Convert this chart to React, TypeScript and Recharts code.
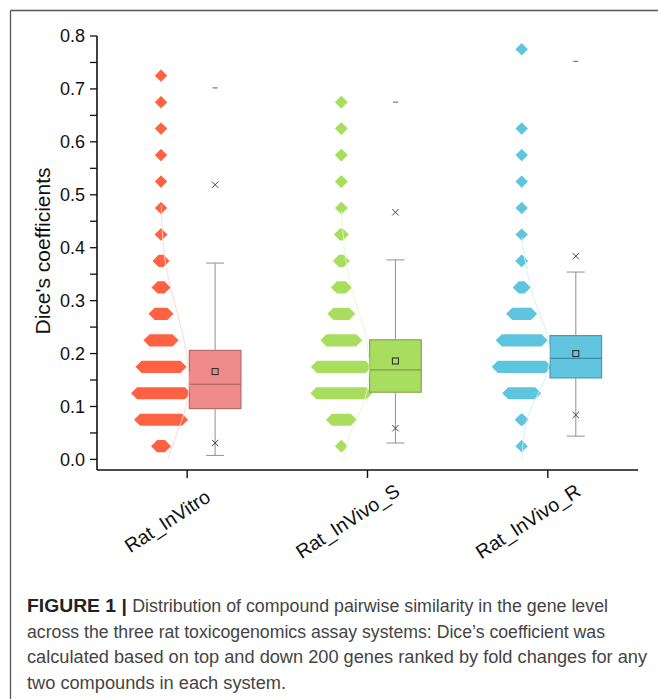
import React from 'react';
import { ComposedChart, XAxis, YAxis, ReferenceArea, ReferenceLine, Scatter } from 'recharts';

// ---------- data ----------
const categories = ['Rat_InVitro', 'Rat_InVivo_S', 'Rat_InVivo_R'];
const categoryPos = [1, 2, 3];
const yTicks = [0, 0.05, 0.1, 0.15, 0.2, 0.25, 0.3, 0.35, 0.4, 0.45, 0.5, 0.55, 0.6, 0.65, 0.7, 0.75, 0.8];
const yMajorTicks = [0, 0.1, 0.2, 0.3, 0.4, 0.5, 0.6, 0.7, 0.8];

// histogram bins (bin centres) and relative frequencies (%), null = empty bin
const binCenters = [0.025, 0.075, 0.125, 0.175, 0.225, 0.275, 0.325, 0.375, 0.425, 0.475, 0.525, 0.575, 0.625, 0.675, 0.725, 0.775];
const freqInVitro = [4.3, 22.6, 25.8, 21.0, 12.4, 7.0, 3.8, 2.7, 0.5, 0.2, 0.2, 0.2, 0.2, 0.2, 0.2, null];
const freqInVivoS = [0.5, 10.2, 26.9, 26.3, 16.1, 8.6, 4.8, 2.7, 1.6, 0.5, 0.5, 0.5, 0.5, 0.5, null, null];
const freqInVivoR = [0.2, 1.1, 14.5, 25.8, 21.5, 10.2, 3.2, 0.5, 0.2, 0.2, 0.2, 0.2, 0.2, null, null, 0.2];

// distribution curves: y positions and density values
const curveYInVitro = [0, 0.05, 0.1, 0.15, 0.2, 0.25, 0.3, 0.35, 0.4, 0.45, 0.48];
const curveDInVitro = [0.67, 1.6, 2.5, 2.8, 2.55, 2.0, 1.3, 0.65, 0.25, 0.08, 0.03];
const curveYInVivoS = [0, 0.05, 0.1, 0.15, 0.2, 0.25, 0.3, 0.35, 0.4, 0.45, 0.47];
const curveDInVivoS = [0.23, 0.9, 2.1, 2.7, 2.7, 2.2, 1.4, 0.7, 0.3, 0.07, 0.02];
const curveYInVivoR = [0, 0.05, 0.1, 0.15, 0.2, 0.25, 0.3, 0.35, 0.4, 0.42];
const curveDInVivoR = [0.03, 0.25, 1.0, 2.3, 2.8, 2.3, 1.3, 0.6, 0.15, 0.05];

// box statistics: whisker low, 1%, Q1, median, mean, Q3, whisker high, 99%, max
const whiskerLow = [0.0075, 0.031, 0.044];
const p1 = [0.031, 0.059, 0.084];
const q1 = [0.096, 0.127, 0.154];
const median = [0.142, 0.169, 0.191];
const mean = [0.166, 0.186, 0.200];
const q3 = [0.206, 0.226, 0.234];
const whiskerHigh = [0.371, 0.377, 0.354];
const p99 = [0.519, 0.467, 0.384];
const maxVal = [0.702, 0.675, 0.752];

const freqs = [freqInVitro, freqInVivoS, freqInVivoR];
const curveYs = [curveYInVitro, curveYInVivoS, curveYInVivoR];
const curveDs = [curveDInVitro, curveDInVivoS, curveDInVivoR];

// ---------- style ----------
const HIST_OFFSET = -0.145;
const BOX_OFFSET = 0.155;
const BOX_HALF = 0.143;
const CAP_HALF = 0.05;
const HEX_HALF_H = 0.0115;
const HEX_TIP = 0.0333;
const FREQ_SCALE = 0.01032;
const CURVE_SCALE = 0.0555;

const hexColors = ['#FF6242', '#A8DD5E', '#5EC5DF'];
const boxFill = ['#EF8A8A', '#A9DD60', '#62C5DF'];
const boxStroke = ['#B56A6A', '#88A656', '#4C9AB0'];
const medianStroke = ['#B05A5A', '#7E9C4E', '#3E8CA3'];
const curveColors = ['#FDD3CC', '#E6F5CF', '#CDEEF7'];

const FONT = '"Liberation Sans", Arial, Helvetica, sans-serif';
const AXIS = '#111';

const Hex = (props: any) => {
  const { x, y, width, height, fill } = props;
  const cx = x + width / 2;
  const cy = y + height / 2;
  const tip = height / 2;
  const half = Math.max(width / 2, tip);
  const pts = [
    [cx - half, cy],
    [cx - half + tip, y],
    [cx + half - tip, y],
    [cx + half, cy],
    [cx + half - tip, y + height],
    [cx - half + tip, y + height],
  ];
  return <polygon points={pts.map((p) => p.join(',')).join(' ')} fill={fill} />;
};

const BoxShape = (props: any) => {
  const { x, y, width, height, fill, stroke } = props;
  return <rect x={x} y={y} width={width} height={height} fill={fill} stroke={stroke} strokeWidth={1.2} />;
};

const MeanSquare = (props: any) => {
  const { cx, cy } = props;
  return <rect x={cx - 3} y={cy - 3} width={6} height={6} fill="none" stroke="#333" strokeWidth={1.1} />;
};

const CrossMark = (props: any) => {
  const { cx, cy } = props;
  const s = 3.2;
  return (
    <g stroke="#444" strokeWidth={1}>
      <line x1={cx - s} y1={cy - s} x2={cx + s} y2={cy + s} />
      <line x1={cx - s} y1={cy + s} x2={cx + s} y2={cy - s} />
    </g>
  );
};

const DashMark = (props: any) => {
  const { cx, cy } = props;
  return <line x1={cx - 2.5} y1={cy} x2={cx + 2.5} y2={cy} stroke="#777" strokeWidth={1.2} />;
};

const NoDot = () => <g />;

const XTick = (props: any) => {
  const { x, y, payload } = props;
  const cx = x - 20;
  const cy = y + 41;
  const idx = categoryPos.indexOf(payload.value);
  return (
    <text
      x={cx}
      y={cy}
      transform={`rotate(-33 ${cx} ${cy})`}
      textAnchor="middle"
      dominantBaseline="central"
      fontSize={19.5}
      fontFamily={FONT}
      fill={AXIS}
    >
      {categories[idx]}
    </text>
  );
};

const fmtY = (v: number) => (Math.round(v * 100) % 10 === 0 ? v.toFixed(1) : '');

export default function App() {
  const hexes: any[] = [];
  const boxes: any[] = [];
  const lines: any[] = [];
  const curves: any[] = [];

  categoryPos.forEach((c, gi) => {
    const hc = c + HIST_OFFSET;
    binCenters.forEach((b, bi) => {
      const f = freqs[gi][bi];
      if (f === null || f === undefined) return;
      const half = HEX_TIP + (f * FREQ_SCALE) / 2;
      hexes.push(
        <ReferenceArea
          key={`h${gi}-${bi}`}
          x1={hc - half}
          x2={hc + half}
          y1={b - HEX_HALF_H}
          y2={b + HEX_HALF_H}
          fill={hexColors[gi]}
          fillOpacity={1}
          stroke="none"
          shape={Hex}
          ifOverflow="visible"
        />
      );
    });

    const curveData = curveYs[gi].map((yy, i) => ({ x: hc + curveDs[gi][i] * CURVE_SCALE, y: yy }));
    curves.push(
      <Scatter
        key={`c${gi}`}
        data={curveData}
        line={{ stroke: curveColors[gi], strokeWidth: 0.9 }}
        lineType="joint"
        lineJointType="natural"
        shape={NoDot}
        isAnimationActive={false}
      />
    );

    const bc = c + BOX_OFFSET;
    lines.push(
      <ReferenceLine key={`wu${gi}`} segment={[{ x: bc, y: q3[gi] }, { x: bc, y: whiskerHigh[gi] }]} stroke="#9a9a9a" strokeWidth={1.1} ifOverflow="visible" />,
      <ReferenceLine key={`wl${gi}`} segment={[{ x: bc, y: q1[gi] }, { x: bc, y: whiskerLow[gi] }]} stroke="#9a9a9a" strokeWidth={1.1} ifOverflow="visible" />,
      <ReferenceLine key={`cu${gi}`} segment={[{ x: bc - CAP_HALF, y: whiskerHigh[gi] }, { x: bc + CAP_HALF, y: whiskerHigh[gi] }]} stroke="#9a9a9a" strokeWidth={1.1} ifOverflow="visible" />,
      <ReferenceLine key={`cl${gi}`} segment={[{ x: bc - CAP_HALF, y: whiskerLow[gi] }, { x: bc + CAP_HALF, y: whiskerLow[gi] }]} stroke="#9a9a9a" strokeWidth={1.1} ifOverflow="visible" />
    );
    boxes.push(
      <ReferenceArea
        key={`b${gi}`}
        x1={bc - BOX_HALF}
        x2={bc + BOX_HALF}
        y1={q1[gi]}
        y2={q3[gi]}
        fill={boxFill[gi]}
        fillOpacity={1}
        stroke={boxStroke[gi]}
        shape={BoxShape}
        ifOverflow="visible"
      />
    );
    lines.push(
      <ReferenceLine key={`m${gi}`} segment={[{ x: bc - BOX_HALF, y: median[gi] }, { x: bc + BOX_HALF, y: median[gi] }]} stroke={medianStroke[gi]} strokeWidth={1.2} ifOverflow="visible" />
    );
  });

  const meanData = categoryPos.map((c, i) => ({ x: c + BOX_OFFSET, y: mean[i] }));
  const crossData = categoryPos.flatMap((c, i) => [
    { x: c + BOX_OFFSET, y: p1[i] },
    { x: c + BOX_OFFSET, y: p99[i] },
  ]);
  const maxData = categoryPos.map((c, i) => ({ x: c + BOX_OFFSET, y: maxVal[i] }));

  return (
    <div style={{ position: 'absolute', left: 0, top: 0, width: 658, height: 699, background: '#fff' }}>
      <svg width={658} height={699} style={{ position: 'absolute', left: 0, top: 0 }}>
        <line x1={10.5} y1={10.5} x2={658} y2={10.5} stroke="#555" strokeWidth={1.3} />
        <line x1={10.5} y1={10.5} x2={10.5} y2={699} stroke="#555" strokeWidth={1.3} />
        <g fontFamily={FONT} fontSize={17.5}>
          <text x={27} y={612} textLength={581} lengthAdjust="spacingAndGlyphs">
            <tspan fontWeight="bold" fill="#222" fontSize={19}>FIGURE 1 | </tspan>
            <tspan fill="#444">Distribution of compound pairwise similarity in the gene level</tspan>
          </text>
          <text x={27} y={637.5} fill="#444" textLength={578} lengthAdjust="spacingAndGlyphs">
            across the three rat toxicogenomics assay systems: Dice’s coefficient was
          </text>
          <text x={27} y={663} fill="#444" textLength={620} lengthAdjust="spacingAndGlyphs">
            calculated based on top and down 200 genes ranked by fold changes for any
          </text>
          <text x={27} y={688.5} fill="#444" textLength={259} lengthAdjust="spacingAndGlyphs">
            two compounds in each system.
          </text>
        </g>
      </svg>
      <div style={{ position: 'absolute', left: 0, top: 0 }}>
        <ComposedChart width={658} height={570} margin={{ top: 36, right: 20, bottom: 40, left: 0 }}>
          <XAxis
            xAxisId={0}
            type="number"
            dataKey="x"
            domain={[0.5, 3.5]}
            ticks={categoryPos}
            interval={0}
            allowDataOverflow
            height={60}
            tickSize={8}
            tickMargin={2}
            axisLine={{ stroke: AXIS, strokeWidth: 1.6 }}
            tickLine={{ stroke: AXIS, strokeWidth: 1.4 }}
            tick={XTick}
          />
          <XAxis
            xAxisId="top"
            orientation="top"
            type="number"
            domain={[0.5, 3.5]}
            allowDataOverflow
            height={0}
            tick={false}
            tickLine={false}
            axisLine={{ stroke: AXIS, strokeWidth: 1.6 }}
          />
          <YAxis
            yAxisId={0}
            type="number"
            dataKey="y"
            domain={[-0.02, 0.8]}
            ticks={yTicks}
            interval={0}
            allowDataOverflow
            width={97}
            tickSize={7}
            tickMargin={5}
            tickFormatter={fmtY}
            axisLine={{ stroke: AXIS, strokeWidth: 1.6 }}
            tickLine={{ stroke: AXIS, strokeWidth: 1.3 }}
            tick={{ fontSize: 18, fill: AXIS, fontFamily: FONT }}
            label={{
              content: (p: any) => {
                const vb = p.viewBox || { x: 0, y: 36, width: 97, height: 434 };
                const lx = vb.x + 42;
                const ly = vb.y + vb.height / 2 - 2;
                return (
                  <text
                    x={lx}
                    y={ly}
                    transform={`rotate(-90 ${lx} ${ly})`}
                    textAnchor="middle"
                    dominantBaseline="central"
                    fontSize={21}
                    fontFamily={FONT}
                    fill={AXIS}
                  >
                    Dice's coefficients
                  </text>
                );
              },
            }}
          />
          <YAxis
            yAxisId="right"
            orientation="right"
            mirror
            type="number"
            domain={[-0.02, 0.8]}
            ticks={yMajorTicks}
            interval={0}
            allowDataOverflow
            width={0}
            tickSize={8}
            tick={false}
            axisLine={{ stroke: AXIS, strokeWidth: 1.6 }}
            tickLine={{ stroke: AXIS, strokeWidth: 1.3 }}
          />
          {hexes}
          {curves}
          {boxes}
          {lines}
          <Scatter data={maxData} shape={DashMark} isAnimationActive={false} />
          <Scatter data={crossData} shape={CrossMark} isAnimationActive={false} />
          <Scatter data={meanData} shape={MeanSquare} isAnimationActive={false} />
        </ComposedChart>
      </div>
    </div>
  );
}
